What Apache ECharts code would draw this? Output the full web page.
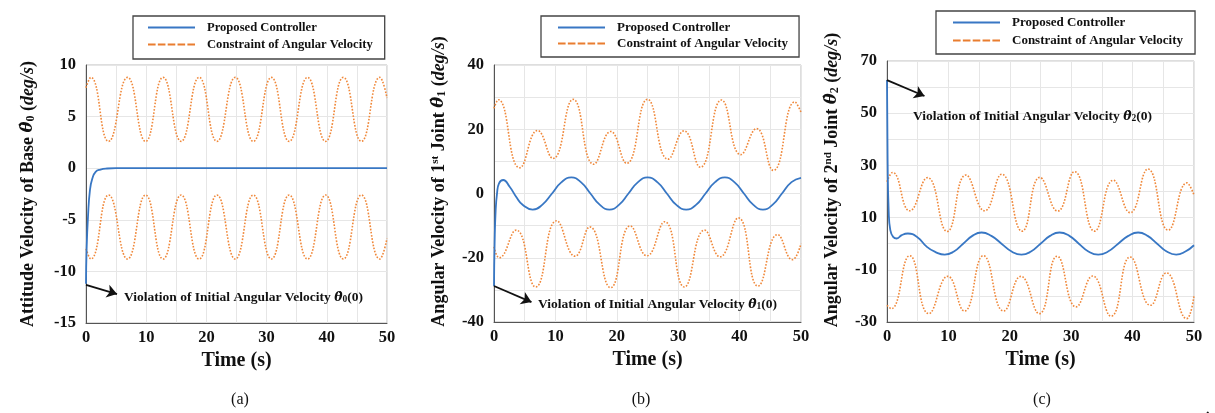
<!DOCTYPE html>
<html><head><meta charset="utf-8">
<script src="https://cdn.jsdelivr.net/npm/echarts@6/dist/echarts.min.js"></script>
<style>html,body{margin:0;padding:0;background:#fff}#c{width:1215px;height:413px}</style>
</head><body><div id="c"></div>
<script>
// ---------- data ----------
const xTicks = [0, 10, 20, 30, 40, 50];
const yTicksA = [-15, -10, -5, 0, 5, 10];
const yTicksB = [-40, -20, 0, 20, 40];
const yTicksC = [-30, -10, 10, 30, 50, 70];

const seriesNames = ['Proposed Controller', 'Constraint of Angular Velocity'];

// (a) attitude velocity of base
const aController = [[0,-11.2],[0.1,-7.9],[0.33,-4.7],[0.66,-2.1],[1.05,-1.0],[1.6,-0.35],[2.4,-0.13],[3.5,-0.03],[5,0],[50,0]];
const aUpper = [[0,7.8],[0.8,8.8],[3.75,2.6],[6.9,8.8],[9.9,2.6],[12.8,8.8],[15.8,2.6],[18.8,8.8],[21.75,2.6],[24.8,8.8],[27.8,2.6],[30.8,8.8],[33.75,2.6],[36.8,8.8],[39.8,2.6],[42.75,8.8],[45.75,2.6],[48.8,8.8],[50,6.8]];
const aLower = [[0,-7.8],[0.8,-8.8],[3.75,-2.6],[6.9,-8.8],[9.9,-2.6],[12.8,-8.8],[15.8,-2.6],[18.8,-8.8],[21.75,-2.6],[24.8,-8.8],[27.8,-2.6],[30.8,-8.8],[33.75,-2.6],[36.8,-8.8],[39.8,-2.6],[42.75,-8.8],[45.75,-2.6],[48.8,-8.8],[50,-6.8]];

// (b) 1st joint
const bController = [[0,-28.8],[0.1,-15.5],[0.27,-5.2],[0.5,0.1],[0.8,3.1],[1.5,4.2],[2.55,2.1],[3.6,-1.0],[4.7,-3.6],[6.3,-5.0],[7.85,-3.55],[9.45,0],[11.0,3.55],[12.6,5.0],[14.15,3.55],[15.7,0],[17.25,-3.55],[18.8,-5.0],[20.35,-3.55],[21.9,0],[23.45,3.55],[25.0,5.0],[26.6,3.55],[28.15,0],[29.7,-3.55],[31.3,-5.0],[32.9,-3.55],[34.45,0],[36.0,3.55],[37.6,5.0],[39.15,3.55],[40.7,0],[42.25,-3.55],[43.8,-5.0],[45.35,-3.55],[46.9,0],[48.45,3.55],[50,4.9]];
const bUpper = [[0,26.5],[0.7,29.2],[4.2,8.0],[7.1,19.6],[9.6,10.9],[12.9,29.3],[16.25,9.1],[19.0,19.3],[21.6,9.4],[25.0,29.3],[28.35,10.7],[30.95,19.5],[33.6,8.2],[37.05,29.1],[40.2,12.1],[42.75,20.2],[45.5,7.2],[49.0,28.5],[50,25.3]];
const bLower = [[0,-16.6],[0.85,-20.0],[3.6,-11.4],[6.8,-29.1],[10.2,-8.5],[13.2,-19.5],[15.6,-10.4],[19.0,-29.3],[22.2,-10.1],[24.9,-19.4],[27.8,-8.8],[31.0,-29.1],[34.3,-11.4],[36.8,-19.7],[39.8,-7.6],[43.0,-28.8],[46.2,-12.8],[48.6,-20.6],[50,-15.6]];

// (c) 2nd joint
const cController = [[0,62.7],[0.1,32],[0.27,12.8],[0.54,5.2],[1.0,2.6],[1.6,2.0],[2.4,3.3],[3.4,3.9],[4.9,2.6],[6.5,-1.2],[7.9,-3.2],[9.4,-4.2],[10.9,-3.0],[12.4,0],[13.9,3.0],[15.4,4.3],[17.0,3.0],[18.65,0],[20.3,-3.0],[21.9,-4.2],[23.45,-3.0],[25.0,0],[26.55,3.0],[28.1,4.3],[29.7,3.0],[31.25,0],[32.8,-3.0],[34.4,-4.2],[36.0,-3.0],[37.65,0],[39.3,3.0],[40.9,4.3],[42.45,3.0],[44.0,0],[45.55,-3.0],[47.1,-4.2],[48.6,-3.0],[50,-0.6]];
const cUpper = [[0,23.7],[0.9,27.3],[3.7,12.6],[6.6,25.3],[9.8,4.7],[12.85,26.3],[15.9,12.6],[18.7,26.6],[22.0,4.8],[24.9,25.4],[27.8,12.5],[30.55,27.6],[33.8,4.8],[36.85,24.3],[39.6,11.9],[42.5,28.6],[45.8,5.2],[48.85,23.3],[50,18.6]];
const cLower = [[0,-23.6],[0.7,-24.9],[3.7,-4.6],[6.8,-26.8],[9.9,-12.5],[12.6,-25.8],[15.7,-4.6],[19.0,-25.8],[21.8,-12.5],[24.8,-26.8],[27.7,-4.8],[30.8,-24.2],[33.5,-12.4],[36.5,-27.8],[39.6,-5.1],[42.9,-23.6],[45.5,-11.2],[48.8,-28.7],[50,-19.8]];

// annotation arrows (data coordinates: from initial value towards the label)
const arrowA = [[0,-11.3],[5.15,-12.2]];
const arrowB = [[0,-28.8],[6.1,-33.8]];
const arrowC = [[0,62.7],[6.1,56.6]];

// ---------- styles ----------
const FONT = "'Liberation Serif','Times New Roman',serif";
const MATHFONT = "'DejaVu Serif',serif";
const BLUE = '#3877C4';
const ORANGE = '#F0883A';
const LEG_ORANGE = '#E97D2F';
const GRIDC = '#e6e6e6';
const SOLID_ICON = 'path://M0,0h47v2.2h-47z';
const DASH_ICON = 'path://M0,0h7.6v2.2h-7.6zM9.85,0h7.6v2.2h-7.6zM19.7,0h7.6v2.2h-7.6zM29.55,0h7.6v2.2h-7.6zM39.4,0h7.6v2.2h-7.6z';

const chart = echarts.init(document.getElementById('c'));

const grids = [
  {left: 86, top: 65, width: 301, height: 258},
  {left: 494, top: 65, width: 307, height: 257},
  {left: 887, top: 61, width: 307, height: 261}
].map(g => Object.assign(g, {show: true, borderColor: '#bdbdbd', borderWidth: 1, backgroundColor: 'transparent'}));

const yTickSets = [yTicksA, yTicksB, yTicksC];
const yMinor = [1, 2, 2];
const yNames = [
  '{b|Attitude Velocity of Base }{th|θ̇}{sub|0}{b| (}{it|deg/s}{b|)}',
  '{b|Angular Velocity of 1}{sup|st}{b| Joint }{th|θ̇}{sub|1}{b| (}{it|deg/s}{b|)}',
  '{b|Angular Velocity of 2}{sup|nd}{b| Joint }{th|θ̇}{sub|2}{b| (}{it|deg/s}{b|)}'
];
const yNameGap = [49, 46, 46];
const yNamePad = [[0,0,0,0],[0,0,0,24],[0,0,0,23]];
const nameRich = {
  b: {fontFamily: FONT, fontWeight: 'bold', fontSize: 18, color: '#111'},
  it: {fontFamily: FONT, fontWeight: 'bold', fontStyle: 'italic', fontSize: 18, color: '#111'},
  th: {fontFamily: MATHFONT, fontWeight: 'bold', fontStyle: 'italic', fontSize: 16.5, color: '#111'},
  sub: {fontFamily: FONT, fontWeight: 'bold', fontSize: 12, color: '#111', verticalAlign: 'bottom'},
  sup: {fontFamily: FONT, fontWeight: 'bold', fontSize: 11, color: '#111', verticalAlign: 'top'}
};

const xAxes = [0,1,2].map(i => ({
  type: 'value', gridIndex: i,
  min: xTicks[0], max: xTicks[xTicks.length-1], interval: xTicks[1]-xTicks[0],
  name: 'Time (s)', nameLocation: 'middle', nameGap: 28,
  nameTextStyle: {fontFamily: FONT, fontWeight: 'bold', fontSize: 20, color: '#111'},
  axisLine: {onZero: false, lineStyle: {color: '#555', width: 1}},
  axisTick: {show: false},
  axisLabel: {fontFamily: FONT, fontWeight: 'bold', fontSize: 16.5, color: '#111', margin: 6},
  splitLine: {show: true, lineStyle: {color: GRIDC}},
  minorTick: {show: false, splitNumber: 2},
  minorSplitLine: {show: true, lineStyle: {color: GRIDC}}
}));

const yAxes = [0,1,2].map(i => {
  const t = yTickSets[i];
  return {
    type: 'value', gridIndex: i,
    min: t[0], max: t[t.length-1], interval: t[1]-t[0],
    name: yNames[i], nameLocation: 'middle', nameRotate: 90, nameGap: yNameGap[i],
    nameTextStyle: {rich: nameRich, padding: yNamePad[i]},
    axisLine: {onZero: false, lineStyle: {color: '#555', width: 1}},
    axisTick: {show: false},
    axisLabel: {fontFamily: FONT, fontWeight: 'bold', fontSize: 16.5, color: '#111', margin: 10},
    splitLine: {show: true, lineStyle: {color: GRIDC}},
    minorTick: {show: false, splitNumber: yMinor[i]},
    minorSplitLine: {show: yMinor[i] > 1, lineStyle: {color: GRIDC}}
  };
});

function ctrl(i, data, arrow) {
  return {
    type: 'line', name: seriesNames[0], xAxisIndex: i, yAxisIndex: i, data,
    showSymbol: false, symbol: 'none', smooth: 0.5, z: 4,
    lineStyle: {color: BLUE, width: 1.8}, itemStyle: {color: BLUE},
    markLine: {
      silent: true, animation: false, symbol: ['none', 'arrow'], symbolSize: 10,
      lineStyle: {color: '#111', width: 1.8, type: 'solid'}, label: {show: false},
      data: [[{coord: arrow[0]}, {coord: arrow[1]}]]
    }
  };
}
function cons(i, data) {
  return {
    type: 'line', name: seriesNames[1], xAxisIndex: i, yAxisIndex: i, data,
    showSymbol: false, symbol: 'none', smooth: 0.5, z: 3,
    lineStyle: {color: ORANGE, width: 1.6, type: 'dotted'}, itemStyle: {color: ORANGE}
  };
}

const legendPos = [
  {left: 133, top: 16, gap: 4, pad: [5, 12, 8, 15], fs: 12.6},
  {left: 541, top: 16, gap: 3, pad: [5, 11, 7, 17], fs: 13},
  {left: 936, top: 11, gap: 5, pad: [5, 12, 7, 17], fs: 13}
];
const legends = legendPos.map(p => ({
  left: p.left, top: p.top,
  orient: 'vertical', itemWidth: 47, itemHeight: 14, itemGap: p.gap,
  padding: p.pad, symbolKeepAspect: true,
  borderColor: '#444', borderWidth: 1.3, backgroundColor: '#fff',
  selectedMode: false,
  textStyle: {fontFamily: FONT, fontWeight: 'bold', fontSize: p.fs, color: '#111', padding: [0, 0, 0, 7]},
  data: [
    {name: seriesNames[0], icon: SOLID_ICON, itemStyle: {color: BLUE}},
    {name: seriesNames[1], icon: DASH_ICON, itemStyle: {color: LEG_ORANGE}}
  ]
}));

const annRich = {
  b: {fontFamily: FONT, fontWeight: 'bold', fontSize: 13.5, fill: '#111'},
  th: {fontFamily: MATHFONT, fontWeight: 'bold', fontStyle: 'italic', fontSize: 12.5, fill: '#111'},
  sub: {fontFamily: FONT, fontWeight: 'bold', fontSize: 9.5, fill: '#111', verticalAlign: 'bottom'}
};
function ann(x, y, k) {
  return {type: 'text', left: x, top: y - 6, z: 10, silent: true,
    style: {text: '{b|Violation of Initial Angular Velocity }{th|θ̇}{sub|' + k + '}{b|(0)}', rich: annRich}};
}
function cap(x, s) {
  return {type: 'text', x: x, y: 400, z: 10, silent: true,
    style: {text: s, fill: '#111', font: '16px ' + FONT, align: 'center', verticalAlign: 'middle'}};
}

chart.setOption({
  animation: false,
  backgroundColor: '#fff',
  grid: grids,
  xAxis: xAxes,
  yAxis: yAxes,
  legend: legends,
  series: [
    cons(0, aUpper), cons(0, aLower), ctrl(0, aController, arrowA),
    cons(1, bUpper), cons(1, bLower), ctrl(1, bController, arrowB),
    cons(2, cUpper), cons(2, cLower), ctrl(2, cController, arrowC)
  ],
  graphic: [
    ann(124, 297, '0'), ann(538, 304, '1'), ann(913, 116, '2'),
    cap(240, '(a)'), cap(641, '(b)'), cap(1042, '(c)'),
    {type: 'text', x: 1206, y: 403, silent: true, style: {text: '.', fill: '#111', font: 'bold 14px ' + FONT}}
  ]
});
</script></body></html>
